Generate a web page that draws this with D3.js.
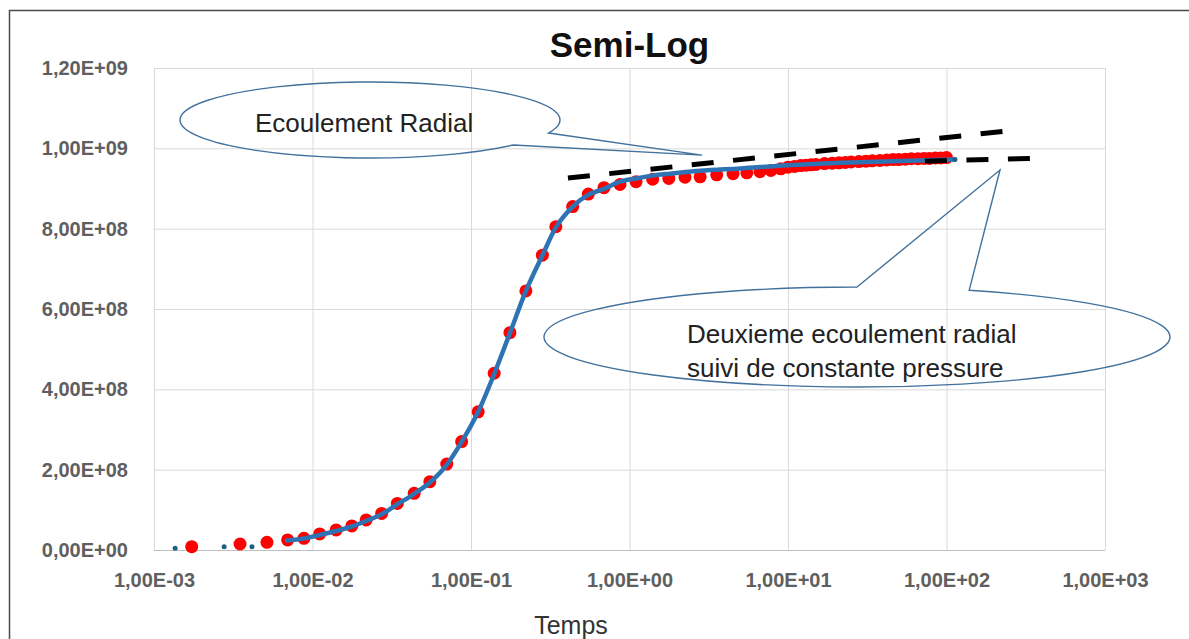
<!DOCTYPE html>
<html lang="fr">
<head>
<meta charset="UTF-8" />
<title>Semi-Log</title>
<script src="https://d3js.org/d3.v7.min.js"></script>
<style>
  body { margin: 0; background: #fff; }
  svg text { font-family: "Liberation Sans", Arial, sans-serif; }
</style>
</head>
<body>
<div id="graph-space"></div>
<script>
  // ---- data ----
  // red series (markers)
  const redT = [1.73e-3, 3.49e-3, 5.16e-3, 6.97e-3, 8.83e-3, 1.11e-2, 1.41e-2, 1.77e-2, 2.18e-2, 2.73e-2,
    3.43e-2, 4.38e-2, 5.5e-2, 7.03e-2, 8.73e-2, 0.111, 0.140, 0.176, 0.222, 0.282,
    0.343, 0.438, 0.55, 0.69, 0.871, 1.10, 1.40, 1.77, 2.24, 2.79,
    3.55, 4.5, 5.5, 6.65, 7.8, 9, 10, 11, 12, 13,
    14, 15, 17, 19, 21, 23, 25, 28, 31, 34,
    38, 42, 46, 50, 55, 60, 66, 72, 78, 85, 92, 100]
  const redP = [8.2e6, 1.5e7, 1.9e7, 2.5e7, 2.9e7, 4.0e7, 5.0e7, 6.0e7, 7.5e7, 9.1e7,
    1.16e8, 1.41e8, 1.70e8, 2.14e8, 2.70e8, 3.44e8, 4.40e8, 5.41e8, 6.45e8, 7.34e8,
    8.05e8, 8.55e8, 8.86e8, 9.02e8, 9.10e8, 9.17e8, 9.23e8, 9.25e8, 9.28e8, 9.29e8,
    9.34e8, 9.37e8, 9.39e8, 9.42e8, 9.45e8, 9.49e8, 9.53e8, 9.55e8, 9.57e8, 9.58e8,
    9.59e8, 9.60e8, 9.62e8, 9.63e8, 9.64e8, 9.65e8, 9.66e8, 9.67e8, 9.68e8, 9.69e8,
    9.70e8, 9.71e8, 9.72e8, 9.72e8, 9.73e8, 9.74e8, 9.74e8, 9.75e8, 9.75e8, 9.76e8, 9.76e8, 9.77e8]

  // blue series (dense small markers, drawn as a line) + isolated markers
  const blueT = [6.9e-3, 8.83e-3, 1.11e-2, 1.41e-2, 1.77e-2, 2.18e-2, 2.75e-2, 3.41e-2, 4.36e-2, 5.5e-2,
    7.03e-2, 8.73e-2, 0.111, 0.140, 0.176, 0.222, 0.281, 0.343, 0.434, 0.547,
    0.69, 0.871, 1.10, 1.39, 1.80, 2.79, 4.98, 9.86, 24.6, 68.1, 113]
  const blueP = [2.37e7, 2.86e7, 3.73e7, 4.73e7, 5.85e7, 7.22e7, 8.96e7, 1.133e8, 1.394e8, 1.68e8,
    2.12e8, 2.69e8, 3.44e8, 4.38e8, 5.40e8, 6.45e8, 7.32e8, 8.03e8, 8.53e8, 8.84e8,
    8.99e8, 9.17e8, 9.25e8, 9.32e8, 9.37e8, 9.44e8, 9.50e8, 9.58e8, 9.65e8, 9.70e8, 9.72e8]
  const blueDotT = [1.36e-3, 2.77e-3, 4.15e-3, 113]
  const blueDotP = [4.2e6, 8.2e6, 8.2e6, 9.72e8]

  // tangent lines (dashed), start/end in data units
  const dashT = [[0.409, 227], [73.1, 352]]
  const dashP = [[9.26e8, 1.042e9], [9.68e8, 9.75e8]]

  // axes
  const xTicks = [1e-3, 1e-2, 1e-1, 1e0, 1e1, 1e2, 1e3]
  const yTicks = [0, 2e8, 4e8, 6e8, 8e8, 1e9, 1.2e9]

  // callouts: ellipse centre + arrow tip in data units
  const calloutText = [["Ecoulement Radial"], ["Deuxieme ecoulement radial", "suivi de constante pressure"]]
  const calloutCenterT = [0.02306, 27.25]
  const calloutCenterP = [1.0705e9, 5.303e8]
  const calloutTipT = [2.87, 217.5]
  const calloutTipP = [9.83e8, 9.46e8]

  // ---- layout ----
  const width = 1189
  const height = 639
  const margin = { left: 154, top: 68, right: 84, bottom: 89 }
  const innerW = width - margin.left - margin.right
  const innerH = height - margin.top - margin.bottom

  const svg = d3.select("#graph-space")
    .append("svg")
    .attr("width", width)
    .attr("height", height)

  // frame around the chart area
  svg.append("rect")
    .attr("x", 9.5).attr("y", 10.5)
    .attr("width", 1300).attr("height", 800)
    .attr("fill", "none").attr("stroke", "#4a4a4a").attr("stroke-width", 1.5)

  const xScale = d3.scaleLog()
    .domain([1e-3, 1e3])
    .range([margin.left, width - margin.right])
  const yScale = d3.scaleLinear()
    .domain([0, 1.2e9])
    .range([height - margin.bottom, margin.top])

  // excel like 1,00E-03
  function sci(d) {
    const [m, e] = d.toExponential(2).split("e")
    return m.replace(".", ",") + "E" + (e[0] === "-" ? "-" : "+") + String(Math.abs(+e)).padStart(2, "0")
  }

  svg.append("g")
    .attr("transform", `translate(${margin.left},0)`)
    .call(d3.axisLeft(yScale).tickValues(yTicks).tickFormat(sci).tickSize(-innerW).tickPadding(26))
    .call(g => g.select(".domain").remove())
    .call(g => g.selectAll("line").attr("stroke", d => d === 0 ? "#bfbfbf" : "#d9d9d9"))
    .call(g => g.selectAll("text").attr("fill", "#5f5f5f").attr("font-size", 20).attr("font-weight", "bold")
      .attr("font-family", "Liberation Sans, Arial, sans-serif"))

  svg.append("g")
    .attr("transform", `translate(0,${height - margin.bottom})`)
    .call(d3.axisBottom(xScale).tickValues(xTicks).tickFormat(sci).tickSize(-innerH).tickPadding(23))
    .call(g => g.select(".domain").remove())
    .call(g => g.selectAll("line").attr("stroke", "#d9d9d9"))
    .call(g => g.selectAll("text").attr("fill", "#5f5f5f").attr("font-size", 20).attr("font-weight", "bold")
      .attr("font-family", "Liberation Sans, Arial, sans-serif"))

  // title and axis title
  svg.append("text")
    .attr("x", (margin.left + width - margin.right) / 2).attr("y", 57)
    .attr("text-anchor", "middle")
    .attr("font-size", 35).attr("font-weight", "bold").attr("fill", "#111")
    .text("Semi-Log")
  svg.append("text")
    .attr("x", 571).attr("y", 634)
    .attr("text-anchor", "middle")
    .attr("font-size", 25).attr("fill", "#333")
    .text("Temps")

  // callouts (no fill, grid shows through)
  const calloutR = [[190, 38], [313, 50]]
  const calloutBase = [[20, 41], [-90, -69]] // degrees on the ellipse where the tail starts
  const textOffset = [[-115, 12], [-170, 6]]
  calloutText.forEach((lines, i) => {
    const cx = xScale(calloutCenterT[i]), cy = yScale(calloutCenterP[i])
    const [rx, ry] = calloutR[i]
    const pt = a => [cx + rx * Math.cos(a * Math.PI / 180), cy + ry * Math.sin(a * Math.PI / 180)]
    const b1 = pt(calloutBase[i][0]), b2 = pt(calloutBase[i][1])
    const tip = [xScale(calloutTipT[i]), yScale(calloutTipP[i])]
    const path = `M${b1}L${tip}L${b2}A${rx},${ry} 0 1 1 ${b1}Z`
    svg.append("path").attr("d", path)
      .attr("fill", "none").attr("stroke", "#41719c").attr("stroke-width", 1.4)
    svg.append("text")
      .attr("font-size", 26).attr("fill", "#222")
      .selectAll("tspan").data(lines).join("tspan")
      .attr("x", cx + textOffset[i][0])
      .attr("y", (d, j) => cy + textOffset[i][1] + j * 34)
      .text(d => d)
  })

  // red markers
  const red = redT.map((t, i) => ({ t: t, p: redP[i] }))
  svg.append("g").selectAll("circle")
    .data(red).join("circle")
    .attr("cx", d => xScale(d.t))
    .attr("cy", d => yScale(d.p))
    .attr("r", 6.5)
    .attr("fill", "#ff0000")

  // blue series
  const blue = blueT.map((t, i) => ({ t: t, p: blueP[i] }))
  const line = d3.line().x(d => xScale(d.t)).y(d => yScale(d.p)).curve(d3.curveMonotoneX)
  svg.append("path")
    .datum(blue)
    .attr("d", line)
    .attr("fill", "none")
    .attr("stroke", "#2e74b5")
    .attr("stroke-width", 4.5)
    .attr("stroke-linecap", "round")
  const blueDots = blueDotT.map((t, i) => ({ t: t, p: blueDotP[i] }))
  svg.append("g").selectAll("circle")
    .data(blueDots).join("circle")
    .attr("cx", d => xScale(d.t))
    .attr("cy", d => yScale(d.p))
    .attr("r", 2.5)
    .attr("fill", "#1f5f7f")

  // dashed tangents
  dashT.forEach((ts, i) => {
    svg.append("line")
      .attr("x1", xScale(ts[0])).attr("y1", yScale(dashP[i][0]))
      .attr("x2", xScale(ts[1])).attr("y2", yScale(dashP[i][1]))
      .attr("stroke", "#000").attr("stroke-width", 5)
      .attr("stroke-dasharray", "22,19.5")
  })
</script>
</body>
</html>
